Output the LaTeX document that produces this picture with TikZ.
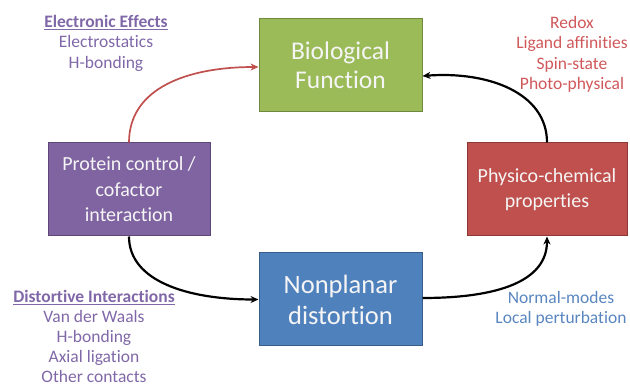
\documentclass[tikz,border=0pt]{standalone}
\usepackage{fontspec}
\setmainfont{Carlito}[Ligatures=NoCommon]
\usetikzlibrary{arrows.meta,calc}
\definecolor{gfill}{HTML}{9BBB59}\definecolor{gdraw}{HTML}{71893F}
\definecolor{bfill}{HTML}{4F81BD}\definecolor{bdraw}{HTML}{385D8A}
\definecolor{pfill}{HTML}{8064A2}\definecolor{pdraw}{HTML}{5C4776}
\definecolor{rfill}{HTML}{C0504D}\definecolor{rdraw}{HTML}{8C3836}
\definecolor{ptext}{HTML}{8068A8}\definecolor{btext}{HTML}{5A86C0}
\definecolor{rtext}{HTML}{D0585A}
\tikzset{
  box/.style={draw, line width=1pt, minimum height=93pt, inner sep=2pt, align=center, text=white!92!gray},
  note/.style={align=center, font=\fontsize{17.5}{20.5}\selectfont, inner sep=0pt},
  conn/.style={line width=2.2pt, -{Stealth[length=8pt,width=7pt]}},
}
\begin{document}
\begin{tikzpicture}[x=1pt,y=-1pt]
\useasboundingbox (0,0) rectangle (630,387);
\node[box, fill=gfill, draw=gdraw, minimum width=163pt, font=\fontsize{25.5}{29}\selectfont] (green) at (340.5,65.5) {Biological\\Function};
\node[box, fill=bfill, draw=bdraw, minimum width=163pt, font=\fontsize{26.5}{31}\selectfont] (blue) at (340.5,299.5) {Nonplanar\\distortion};
\node[box, fill=pfill, draw=pdraw, minimum width=162pt, font=\fontsize{20}{25.5}\selectfont] (purple) at (129,189.5) {Protein control /\\cofactor\\interaction};
\node[box, fill=rfill, draw=rdraw, minimum width=160pt, font=\fontsize{20}{24.5}\selectfont] (red) at (547,189.5) {Physico-chemical\\properties};

\draw[conn, draw=rfill, line width=1.7pt] (purple.north) .. controls +(0,-55) and +(-70,0) .. ($(green.west)+(0,1.5)$);
\draw[conn] (red.north) .. controls +(0,-50) and +(65,-5) .. ($(green.east)+(0,10.5)$);
\draw[conn] (purple.south) .. controls +(0,45) and +(-70,0) .. (blue.west);
\draw[conn] ($(blue.east)+(0,-1.5)$) .. controls +(75,0) and +(0,45) .. (red.south);

\node[note, text=ptext, anchor=north] (ee) at (106,15) {\textbf{\underline{Electronic Effects}}\\Electrostatics\\H-bonding};
\node[note, text=rtext, anchor=north] (rr) at (572,16) {Redox\\Ligand affinities\\Spin-state\\Photo-physical};
\node[note, text=ptext, anchor=north, font=\fontsize{17.5}{20}\selectfont] (di) at (94,290) {\textbf{\underline{Distortive Interactions}}\\Van der Waals\\H-bonding\\Axial ligation\\Other contacts};
\node[note, text=btext, anchor=north] (nm) at (561,291) {Normal-modes\\Local perturbation};
\end{tikzpicture}
\end{document}
